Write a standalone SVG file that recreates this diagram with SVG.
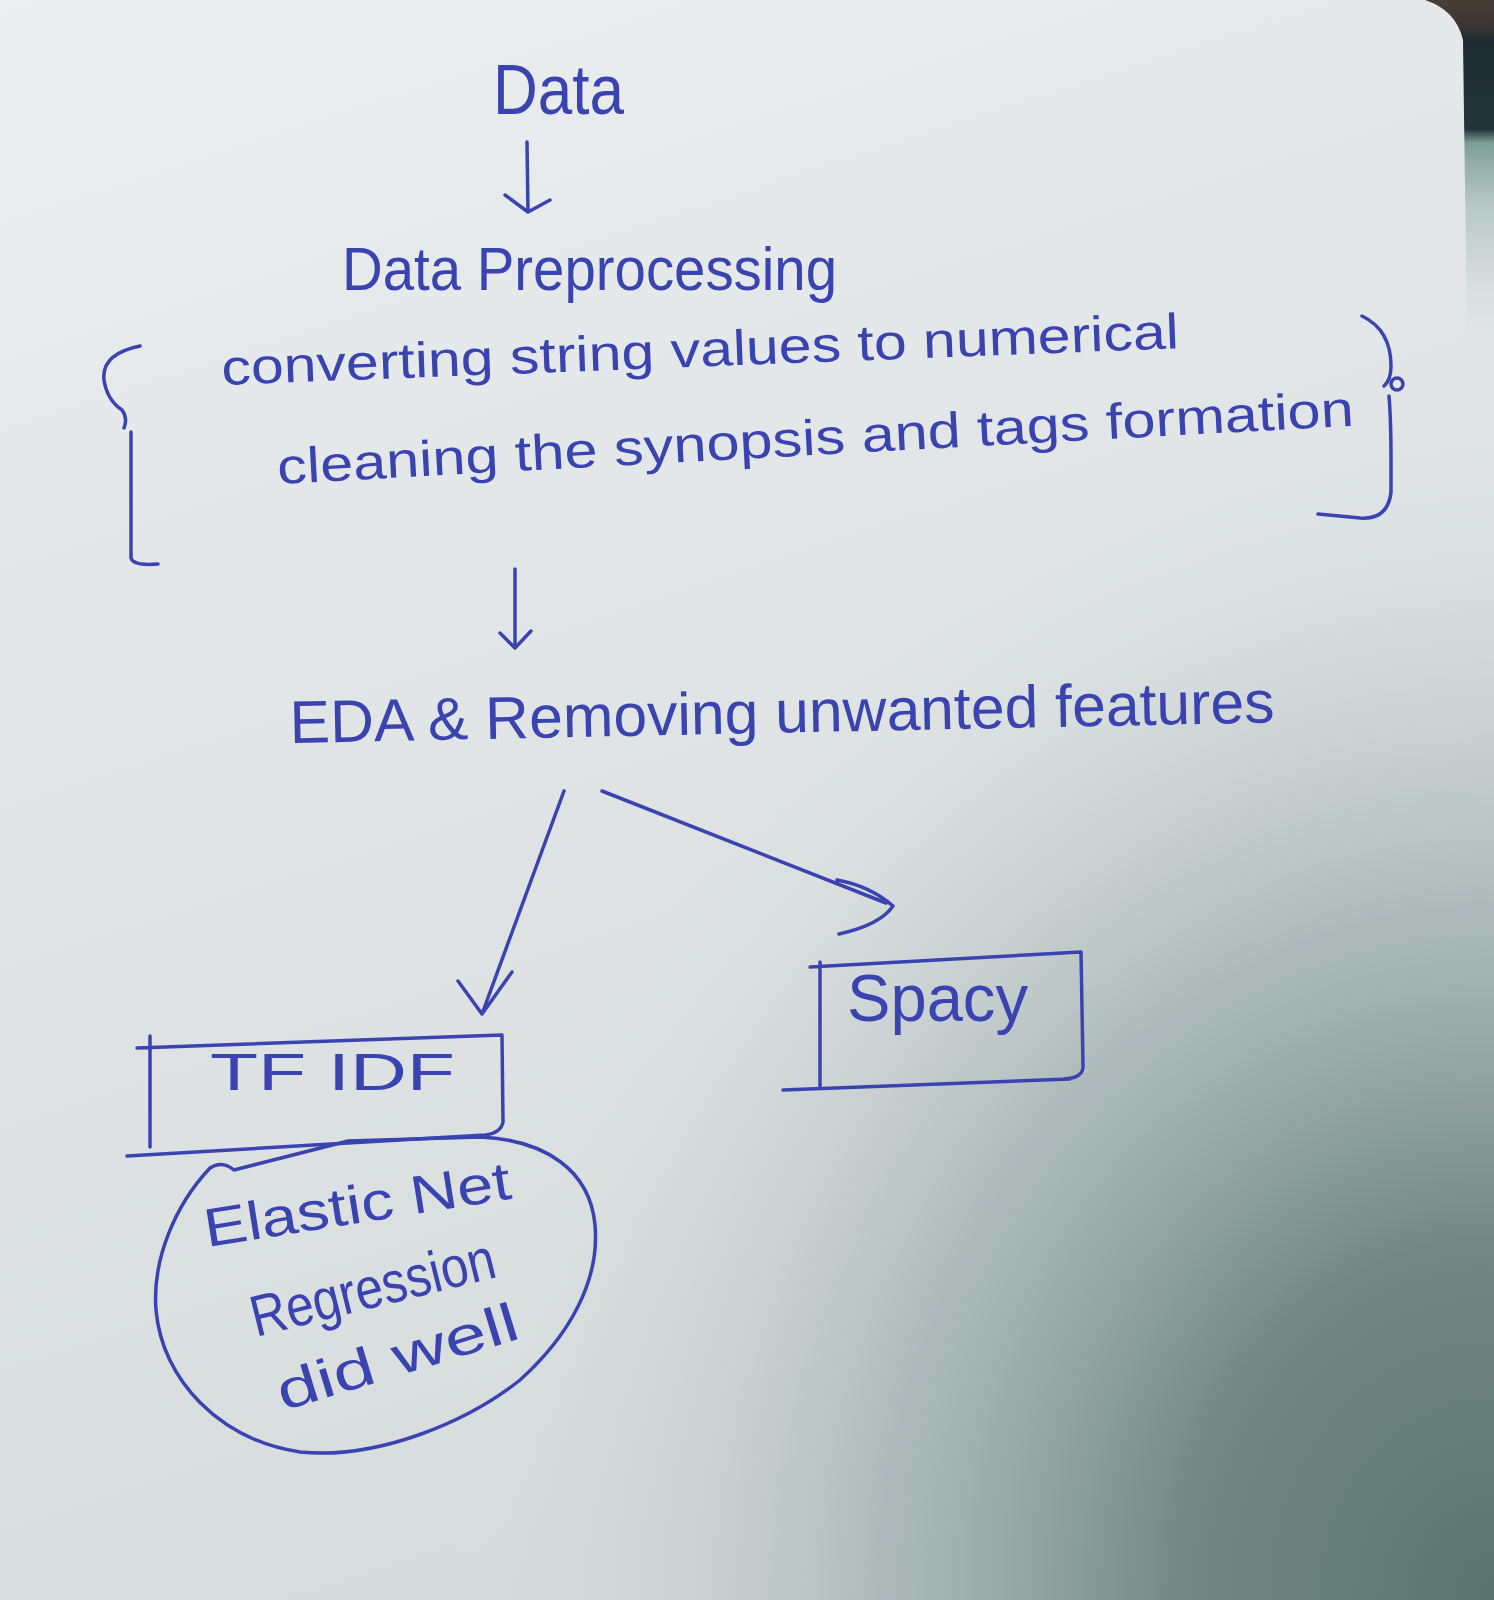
<svg xmlns="http://www.w3.org/2000/svg" width="1494" height="1600" viewBox="0 0 1494 1600">
  <defs>
    <linearGradient id="paper" x1="0" y1="0" x2="0.3" y2="1">
      <stop offset="0" stop-color="#eceef0"/>
      <stop offset="1" stop-color="#d6dbdc"/>
    </linearGradient>
    <radialGradient id="shade" cx="1494" cy="1600" r="1050" gradientUnits="userSpaceOnUse" gradientTransform="translate(1494 1600) scale(1 1.15) translate(-1494 -1600)">
      <stop offset="0" stop-color="#5b726e" stop-opacity="1"/>
      <stop offset="0.3" stop-color="#6e8480" stop-opacity="0.95"/>
      <stop offset="0.6" stop-color="#98a8a8" stop-opacity="0.6"/>
      <stop offset="1" stop-color="#dfe3e4" stop-opacity="0"/>
    </radialGradient>
    <linearGradient id="behind" x1="0" y1="0" x2="0" y2="1">
      <stop offset="0" stop-color="#4b3e38"/>
      <stop offset="0.08" stop-color="#3a3433"/>
      <stop offset="0.12" stop-color="#1d2b31"/>
      <stop offset="0.38" stop-color="#22343a"/>
      <stop offset="0.42" stop-color="#7d9e95"/>
      <stop offset="0.6" stop-color="#a3bab3" stop-opacity="0.7"/>
      <stop offset="1" stop-color="#c5d0cf" stop-opacity="0"/>
    </linearGradient>
    <style>
      .ink { stroke: #3a44b0; stroke-width: 3.5; fill: none; stroke-linecap: round; stroke-linejoin: round; }
      .txt { fill: #3a44b0; font-family: "Liberation Sans", Arial, sans-serif; }
    </style>
  </defs>

  <!-- paper background -->
  <rect x="0" y="0" width="1494" height="1600" fill="url(#paper)"/>
  <rect x="0" y="0" width="1494" height="1600" fill="url(#shade)"/>
  <path d="M 1425 0 Q 1456 10 1463 40 L 1467 340 L 1494 340 L 1494 0 Z" fill="url(#behind)"/>

  <!-- nodes -->
  <g id="node-data">
    <text class="txt" x="493" y="114" font-size="70" textLength="131" lengthAdjust="spacingAndGlyphs">Data</text>
  </g>

  <g id="node-preprocessing">
    <text class="txt" x="342" y="290" font-size="62" textLength="495" lengthAdjust="spacingAndGlyphs">Data Preprocessing</text>
    <text class="txt" transform="translate(222,385) rotate(-2.2)" x="0" y="0" font-size="50" textLength="958" lengthAdjust="spacingAndGlyphs">converting string values to numerical</text>
    <text class="txt" transform="translate(278,484) rotate(-3.1)" x="0" y="0" font-size="50" textLength="1078" lengthAdjust="spacingAndGlyphs">cleaning the synopsis and tags formation</text>
    <path class="ink" d="M 140 346 Q 101 354 104 380 Q 107 400 122 410 Q 128 418 124 428 M 131 432 L 131 558 Q 133 566 158 564"/>
    <path class="ink" d="M 1362 316 Q 1391 330 1391 366 Q 1391 380 1384 386 M 1389 396 Q 1391 420 1391 460 L 1391 492 Q 1388 520 1360 518 L 1318 514"/>
    <circle class="ink" cx="1397" cy="384" r="6"/>
  </g>

  <g id="node-eda">
    <text class="txt" transform="translate(290,743) rotate(-1.2)" x="0" y="0" font-size="60" textLength="985" lengthAdjust="spacingAndGlyphs">EDA &amp; Removing unwanted features</text>
  </g>

  <g id="node-tfidf">
    <path class="ink" d="M 137 1048 L 502 1035 M 150 1036 L 150 1147 M 127 1156 L 485 1135 Q 501 1133 503 1122 L 502 1035"/>
    <text class="txt" x="210" y="1090" font-size="52" textLength="245" lengthAdjust="spacingAndGlyphs">TF IDF</text>
  </g>

  <g id="node-spacy">
    <path class="ink" d="M 810 967 L 1081 952 M 820 962 L 820 1086 M 1081 952 L 1083 1065 Q 1084 1078 1064 1079 M 783 1090 L 1070 1079"/>
    <text class="txt" x="847" y="1021" font-size="66" textLength="181" lengthAdjust="spacingAndGlyphs">Spacy</text>
  </g>

  <g id="node-elastic-net">
    <path class="ink" d="M 480 1137 L 348 1141 L 234 1170 Q 222 1160 210 1168 C 175 1205 152 1260 156 1310 C 162 1380 220 1440 300 1452 C 380 1460 470 1420 520 1380 C 570 1335 600 1280 595 1225 C 590 1170 545 1140 480 1137"/>
    <text class="txt" transform="translate(207,1247) rotate(-9)" x="0" y="0" font-size="54" textLength="310" lengthAdjust="spacingAndGlyphs">Elastic Net</text>
    <text class="txt" transform="translate(256,1337) rotate(-14)" x="0" y="0" font-size="58" textLength="250" lengthAdjust="spacingAndGlyphs">Regression</text>
    <text class="txt" transform="translate(283,1411) rotate(-17)" x="0" y="0" font-size="54" textLength="250" lengthAdjust="spacingAndGlyphs">did well</text>
  </g>

  <!-- connectors -->
  <g id="connectors">
    <path class="ink" d="M 527 142 L 528 212 M 505 195 L 528 212 L 550 200"/>
    <path class="ink" d="M 515 569 L 515 648 M 500 633 L 515 648 L 531 631"/>
    <path class="ink" d="M 564 791 L 482 1014 M 458 981 L 482 1014 L 512 972"/>
    <path class="ink" d="M 602 791 L 886 903 M 837 880 Q 870 886 893 906 Q 880 925 839 934"/>
  </g>
</svg>
